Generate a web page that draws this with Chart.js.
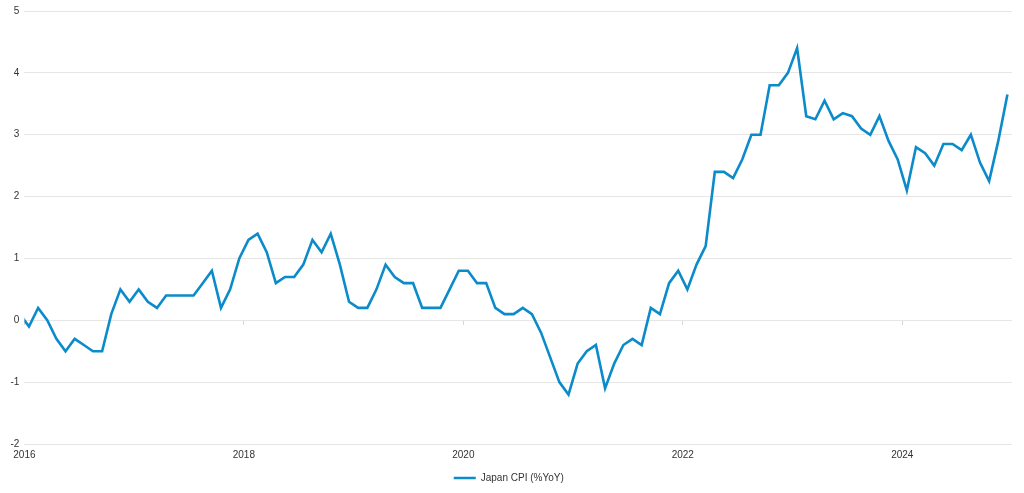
<!DOCTYPE html>
<html>
<head>
<meta charset="utf-8">
<script src="https://cdn.jsdelivr.net/npm/chart.js@4.4.0/dist/chart.umd.min.js"></script>
<style>
  html, body { margin: 0; padding: 0; background: #fff; }
  #wrap { width: 1024px; height: 493px; }
</style>
</head>
<body>
<div id="wrap"><canvas id="cpiChart"></canvas></div>
<script>
// monthly Japan CPI, %YoY
const cpiDec2015 = [0.1];
const cpi2016 = [-0.1, 0.2, 0.0, -0.3, -0.5, -0.3, -0.4, -0.5, -0.5, 0.1, 0.5, 0.3];
const cpi2017 = [0.5, 0.3, 0.2, 0.4, 0.4, 0.4, 0.4, 0.6, 0.8, 0.2, 0.5, 1.0];
const cpi2018 = [1.3, 1.4, 1.1, 0.6, 0.7, 0.7, 0.9, 1.3, 1.1, 1.4, 0.9, 0.3];
const cpi2019 = [0.2, 0.2, 0.5, 0.9, 0.7, 0.6, 0.6, 0.2, 0.2, 0.2, 0.5, 0.8];
const cpi2020 = [0.8, 0.6, 0.6, 0.2, 0.1, 0.1, 0.2, 0.1, -0.2, -0.6, -1.0, -1.2];
const cpi2021 = [-0.7, -0.5, -0.4, -1.1, -0.7, -0.4, -0.3, -0.4, 0.2, 0.1, 0.6, 0.8];
const cpi2022 = [0.5, 0.9, 1.2, 2.4, 2.4, 2.3, 2.6, 3.0, 3.0, 3.8, 3.8, 4.0];
const cpi2023 = [4.4, 3.3, 3.25, 3.55, 3.25, 3.35, 3.3, 3.1, 3.0, 3.3, 2.9, 2.6];
const cpi2024 = [2.1, 2.8, 2.7, 2.5, 2.85, 2.85, 2.75, 3.0, 2.55, 2.25, 2.9, 3.65];

const dataYears = [2016, 2017, 2018, 2019, 2020, 2021, 2022, 2023, 2024];
const yearSeries = [cpi2016, cpi2017, cpi2018, cpi2019, cpi2020, cpi2021, cpi2022, cpi2023, cpi2024];
const xTickYears = [2016, 2018, 2020, 2022, 2024];
const yTicks = [-2, -1, 0, 1, 2, 3, 4, 5];

// points sit mid-month on a year axis
const points = [{ x: 2015 + 11.5 / 12, y: cpiDec2015[0] }];
dataYears.forEach(function (yr, i) {
    yearSeries[i].forEach(function (v, m) {
        points.push({ x: yr + (m + 0.5) / 12, y: v });
    });
});

Chart.defaults.font.family = "'Liberation Sans', Arial, sans-serif";
Chart.defaults.font.size = 10;
Chart.defaults.color = "#333";

const lineColor = "#0b8bc9";

const config = {
    type: 'line',
    data: {
        datasets: [{
            label: 'Japan CPI (%YoY)',
            data: points,
            borderColor: lineColor,
            backgroundColor: lineColor,
            borderWidth: 2.6,
            pointRadius: 0,
            tension: 0,
            xAxisID: 'x'
        }]
    },
    options: {
        responsive: true,
        maintainAspectRatio: false,
        animation: false,
        layout: { padding: { left: 5.5, right: 12, top: 0, bottom: 0 } },
        plugins: {
            legend: {
                display: true,
                position: 'bottom',
                labels: {
                    usePointStyle: true,
                    pointStyle: 'line',
                    pointStyleWidth: 22,
                    padding: 7,
                    color: '#333',
                    font: { size: 10 }
                }
            },
            tooltip: { enabled: false }
        },
        scales: {
            x: {
                type: 'linear',
                position: 'bottom',
                min: 2016,
                max: 2025,
                afterBuildTicks: function (scale) {
                    scale.ticks = xTickYears.map(function (v) { return { value: v }; });
                },
                ticks: {
                    padding: 5,
                    maxRotation: 0,
                    callback: function (v) { return String(v); }
                },
                grid: { display: false, drawTicks: false },
                border: { display: false }
            },
            x2: {
                type: 'linear',
                position: { y: 0 },
                min: 2016,
                max: 2025,
                afterBuildTicks: function (scale) {
                    scale.ticks = xTickYears.map(function (v) { return { value: v }; });
                },
                ticks: { display: false },
                grid: { drawOnChartArea: false, drawTicks: true, tickLength: 5, color: '#d8d8d8' },
                border: { display: false }
            },
            y: {
                min: -2,
                max: 5,
                afterBuildTicks: function (scale) {
                    scale.ticks = yTicks.map(function (v) { return { value: v }; });
                },
                ticks: { padding: 5 },
                grid: { color: '#e6e6e6', drawTicks: false },
                border: { display: false }
            }
        }
    }
};

var cpiChart = new Chart(document.getElementById('cpiChart'), config);
</script>
</body>
</html>
